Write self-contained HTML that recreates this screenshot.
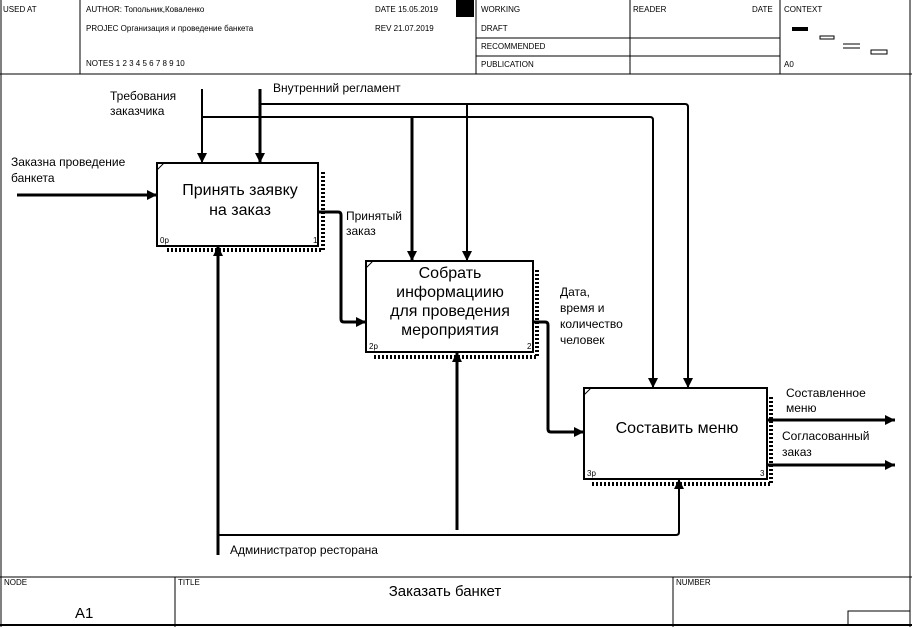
<!DOCTYPE html>
<html><head><meta charset="utf-8"><style>
html,body{margin:0;padding:0;background:#fff}
svg{display:block}
text{font-family:"Liberation Sans",sans-serif;fill:#000}
.s{font-size:8px}
</style></head><body>
<svg width="912" height="628" viewBox="0 0 912 628" xmlns="http://www.w3.org/2000/svg">
<defs>
<marker id="a" viewBox="0 0 10 10" refX="10" refY="5" markerWidth="10" markerHeight="10" markerUnits="userSpaceOnUse" orient="auto"><path d="M0,0L10,5L0,10z" fill="#000"/></marker>
</defs>
<g stroke="#000" fill="none">
<line x1="1" y1="0" x2="1" y2="627" stroke-width="1"/>
<line x1="910" y1="0" x2="910" y2="627" stroke-width="1"/>
<line x1="0" y1="74" x2="912" y2="74" stroke-width="1"/>
<line x1="80" y1="0" x2="80" y2="74"/>
<line x1="476" y1="0" x2="476" y2="74"/>
<line x1="630" y1="0" x2="630" y2="74"/>
<line x1="780" y1="0" x2="780" y2="74"/>
<line x1="476" y1="38" x2="780" y2="38"/>
<line x1="476" y1="56" x2="780" y2="56"/>
<line x1="0" y1="577" x2="912" y2="577"/>
<line x1="0" y1="625" x2="912" y2="625" stroke-width="2"/>
<line x1="175" y1="577" x2="175" y2="627"/>
<line x1="673" y1="577" x2="673" y2="627"/>
<rect x="848" y="611" width="62" height="14"/>
</g>
<rect x="456" y="0" width="18" height="17" fill="#000"/>
<rect x="792" y="27" width="16" height="4" fill="#000"/>
<g stroke="#000" fill="none" stroke-width="1">
<rect x="820" y="36" width="14" height="3"/>
<line x1="843" y1="44" x2="860" y2="44"/><line x1="843" y1="48" x2="860" y2="48"/>
<rect x="871" y="50" width="16" height="4"/>
</g>
<g class="s">
<text x="3" y="12">USED AT</text>
<text x="86" y="12">AUTHOR: Топольник,Коваленко</text>
<text x="86" y="31">PROJEC    Организация и проведение банкета</text>
<text x="86" y="66">NOTES  1  2  3  4  5  6  7  8  9  10</text>
<text x="375" y="12">DATE    15.05.2019</text>
<text x="375" y="31">REV      21.07.2019</text>
<text x="481" y="12">WORKING</text>
<text x="481" y="31">DRAFT</text>
<text x="481" y="49">RECOMMENDED</text>
<text x="481" y="67">PUBLICATION</text>
<text x="633" y="12">READER</text>
<text x="752" y="12">DATE</text>
<text x="784" y="12">CONTEXT</text>
<text x="784" y="67">A0</text>
<text x="4" y="585">NODE</text>
<text x="178" y="585">TITLE</text>
<text x="676" y="585">NUMBER</text>
</g>
<text x="75" y="618" font-size="15">A1</text>
<text x="445" y="596" font-size="15" text-anchor="middle">Заказать банкет</text>

<g stroke="#000" stroke-width="4" stroke-dasharray="2 2" fill="none">
<path d="M323 172V250H165"/>
<path d="M537 270V357H373"/>
<path d="M771 397V484H592"/>
</g>
<g stroke="#000" stroke-width="2" fill="#fff">
<rect x="157" y="163" width="161" height="83"/>
<rect x="366" y="261" width="167" height="91"/>
<rect x="584" y="388" width="183" height="91"/>
</g>
<g stroke="#000" stroke-width="1">
<line x1="157" y1="170" x2="164" y2="163"/>
<line x1="366" y1="268" x2="373" y2="261"/>
<line x1="584" y1="395" x2="591" y2="388"/>
</g>
<g font-size="16" text-anchor="middle">
<text x="240" y="195">Принять заявку</text>
<text x="240" y="215">на заказ</text>
<text x="450" y="278">Собрать</text>
<text x="450" y="297">информациию</text>
<text x="450" y="316">для проведения</text>
<text x="450" y="335">мероприятия</text>
<text x="677" y="433">Составить меню</text>
</g>
<g font-size="8">
<text x="160" y="243">0р</text><text x="313" y="243">1</text>
<text x="369" y="349">2р</text><text x="527" y="349">2</text>
<text x="587" y="476">3р</text><text x="760" y="476">3</text>
</g>

<g stroke="#000" stroke-width="3" fill="none">
<line x1="17" y1="195" x2="157" y2="195" marker-end="url(#a)"/>
<line x1="202" y1="89" x2="202" y2="163" stroke-width="2" marker-end="url(#a)"/>
<line x1="260" y1="89" x2="260" y2="163" marker-end="url(#a)"/>
<path d="M202 117H650Q653 117 653 120V388" stroke-width="2" marker-end="url(#a)"/>
<path d="M260 104H685Q688 104 688 107V388" stroke-width="2" marker-end="url(#a)"/>
<line x1="412" y1="117" x2="412" y2="261" marker-end="url(#a)"/>
<line x1="467" y1="104" x2="467" y2="261" stroke-width="2" marker-end="url(#a)"/>
<path d="M318 212H338Q341 212 341 215V319Q341 322 344 322H366" marker-end="url(#a)"/>
<path d="M533 322H545Q548 322 548 325V429Q548 432 551 432H584" marker-end="url(#a)"/>
<line x1="767" y1="420" x2="895" y2="420" marker-end="url(#a)"/>
<line x1="767" y1="465" x2="895" y2="465" marker-end="url(#a)"/>
<line x1="218" y1="555" x2="218" y2="246" marker-end="url(#a)"/>
<path d="M218 535H676Q679 535 679 532V479" stroke-width="2" marker-end="url(#a)"/>
<line x1="457" y1="530" x2="457" y2="352" marker-end="url(#a)"/>
</g>

<g font-size="12">
<text x="11" y="166">Заказна проведение</text>
<text x="11" y="182">банкета</text>
<text x="110" y="100">Требования</text>
<text x="110" y="115">заказчика</text>
<text x="273" y="92">Внутренний регламент</text>
<text x="346" y="220">Принятый</text>
<text x="346" y="235">заказ</text>
<text x="560" y="296">Дата,</text>
<text x="560" y="312">время и</text>
<text x="560" y="328">количество</text>
<text x="560" y="344">человек</text>
<text x="786" y="397">Составленное</text>
<text x="786" y="412">меню</text>
<text x="782" y="440">Согласованный</text>
<text x="782" y="456">заказ</text>
<text x="230" y="554">Администратор ресторана</text>
</g>
</svg>
</body></html>
